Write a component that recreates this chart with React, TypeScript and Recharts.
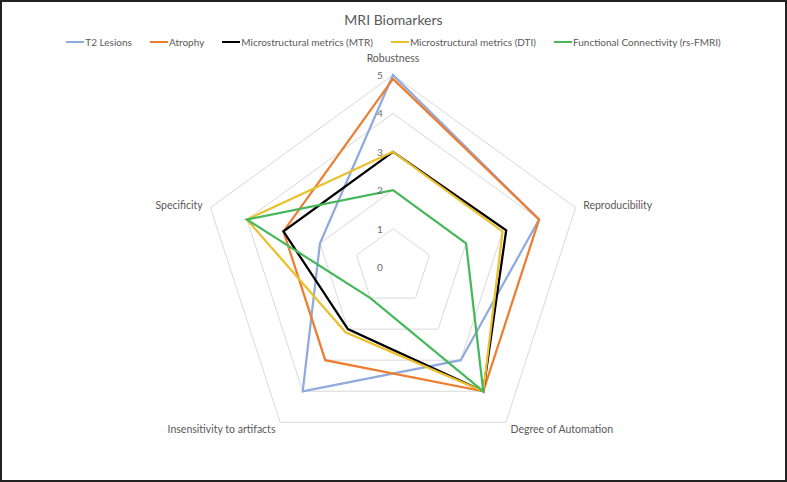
import { Legend, PolarAngleAxis, PolarGrid, PolarRadiusAxis, Radar, RadarChart } from "recharts"

const criteria = ['Robustness', 'Reproducibility', 'Degree of Automation', 'Insensitivity to artifacts', 'Specificity'];
const t2Lesions = [5, 4, 3, 4, 2];
const atrophy = [4.9, 4, 4, 3, 3];
const mtr = [3, 3.1, 4, 2, 3];
const dti = [3, 3, 4, 2.1, 4];
const rsfmri = [2, 2, 4, 1, 4];
const radiusTicks = [0, 1, 2, 3, 4, 5];

const series = [
  { key: 't2', name: 'T2 Lesions', color: '#8FAADC' },
  { key: 'atrophy', name: 'Atrophy', color: '#ED7D31' },
  { key: 'mtr', name: 'Microstructural metrics (MTR)', color: '#000000' },
  { key: 'dti', name: 'Microstructural metrics (DTI)', color: '#EBC02D' },
  { key: 'fmri', name: 'Functional Connectivity (rs-FMRI)', color: '#47B85A' },
];

const data = criteria.map((c, i) => ({
  name: c,
  t2: t2Lesions[i],
  atrophy: atrophy[i],
  mtr: mtr[i],
  dti: dti[i],
  fmri: rsfmri[i],
}));

const font = 'Lato, "Open Sans", sans-serif';

const renderLegend = () => (
  <div style={{ display: 'flex', justifyContent: 'center', fontFamily: font, fontSize: 10, color: '#595959' }}>
    {series.map((s) => (
      <div key={s.key} style={{ display: 'flex', alignItems: 'center', margin: '0 9px' }}>
        <span style={{ display: 'inline-block', width: 18, height: 2.5, background: s.color, marginRight: 1 }} />
        <span>{s.name}</span>
      </div>
    ))}
  </div>
);

const AngleTick = (props: any) => {
  const { x, y, textAnchor, payload } = props;
  const dy = payload.value === 'Robustness' ? -5 : 4;
  return (
    <text x={x} y={y + dy} textAnchor={textAnchor} fill="#595959" fontSize={10.5} fontFamily={font}>
      {payload.value}
    </text>
  );
};

const RadiusTick = (props: any) => {
  const { x, y, payload } = props;
  return (
    <text x={x - 13} y={y + 4} textAnchor="middle" fill="#6b6b6b" fontSize={10} fontFamily={font}>
      {payload.value}
    </text>
  );
};

const App = () => {
  return (
    <div style={{ position: 'absolute', left: 0, top: 0, width: 787, height: 482, background: '#fff' }}>
      <div style={{ position: 'absolute', left: 0, top: 0, width: 787, height: 482, boxSizing: 'border-box', border: '2px solid #222' }} />
      <div style={{ position: 'absolute', left: 0, top: 11, width: 787, textAlign: 'center', fontFamily: font, fontSize: 14, color: '#595959' }}>
        MRI Biomarkers
      </div>
      <RadarChart width={787} height={482} data={data} cx={393} cy={267} outerRadius={192}>
        <PolarGrid gridType="polygon" radialLines={false} stroke="#D9D9D9" />
        <PolarAngleAxis dataKey="name" tick={AngleTick} tickLine={false} axisLine={false} />
        <PolarRadiusAxis angle={90} domain={[0, 5]} ticks={radiusTicks} tickCount={6} axisLine={false} tickLine={false} tick={RadiusTick} />
        {series.map((s) => (
          <Radar key={s.key} name={s.name} dataKey={s.key} stroke={s.color} strokeWidth={2.25} fill="none" fillOpacity={0} dot={false} isAnimationActive={false} />
        ))}
        <Legend verticalAlign="top" content={renderLegend} wrapperStyle={{ top: 36, left: 0, width: 787 }} />
      </RadarChart>
    </div>
  )
}

export default App
